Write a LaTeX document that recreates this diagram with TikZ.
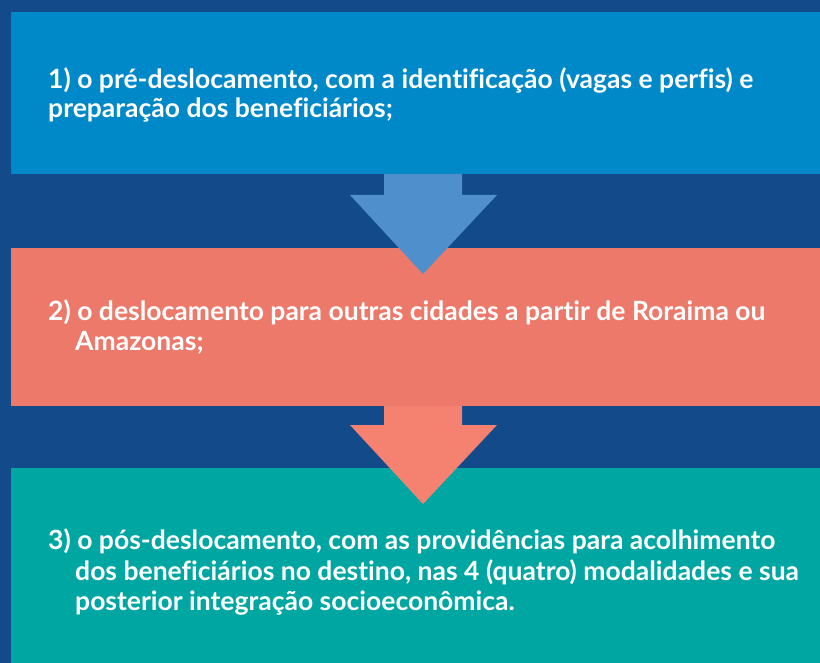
\documentclass[tikz,border=0pt]{standalone}
\usepackage{fontspec}
\setmainfont{Lato}[Ligatures=NoCommon]
\definecolor{bgblue}{RGB}{19,74,138}
\definecolor{boxblue}{RGB}{0,137,201}
\definecolor{arrblue}{RGB}{79,144,204}
\definecolor{boxsalmon}{RGB}{236,121,106}
\definecolor{arrsalmon}{RGB}{245,129,112}
\definecolor{boxteal}{RGB}{0,167,162}
\begin{document}
\begin{tikzpicture}[x=1pt,y=-1pt,
  txt/.style={anchor=base west,inner sep=0pt,text=white,font=\bfseries\fontsize{26.5}{30}\selectfont}]
\fill[bgblue] (0,0) rectangle (820,663);
\useasboundingbox (0,0) rectangle (820,663);
% boxes
\fill[boxblue] (11,12) rectangle (820,174);
\coordinate (b1s) at (423,174);
\fill[boxsalmon] (11,248) rectangle (820,406);
\coordinate (b2s) at (423,406);
\fill[boxteal] (11,468) rectangle (820,663);
% arrows
\fill[arrblue] (b1s) ++(-39,0) -- ++(0,21) -- ++(-34,0) -- (423,274) -- (497,195) -- ++(-35,0) -- ++(0,-21) -- cycle;
\fill[arrsalmon] (b2s) ++(-39,0) -- ++(0,19) -- ++(-34,0) -- (423,504) -- (497,425) -- ++(-35,0) -- ++(0,-19) -- cycle;
% texts
\node[txt] (t1a) at (48,89) {1) o pré-deslocamento, com a identificação (vagas e perfis) e};
\node[txt] (t1b) at (48,118) {preparação dos beneficiários;};
\node[txt] (t2a) at (48,320) {2) o deslocamento para outras cidades a partir de Roraima ou};
\node[txt] (t2b) at (75,350) {Amazonas;};
\node[txt] (t3a) at (48,549) {3) o pós-deslocamento, com as providências para acolhimento};
\node[txt] (t3b) at (75,580) {dos beneficiários no destino, nas 4 (quatro) modalidades e sua};
\node[txt] (t3c) at (75,610) {posterior integração socioeconômica.};
\end{tikzpicture}
\end{document}
